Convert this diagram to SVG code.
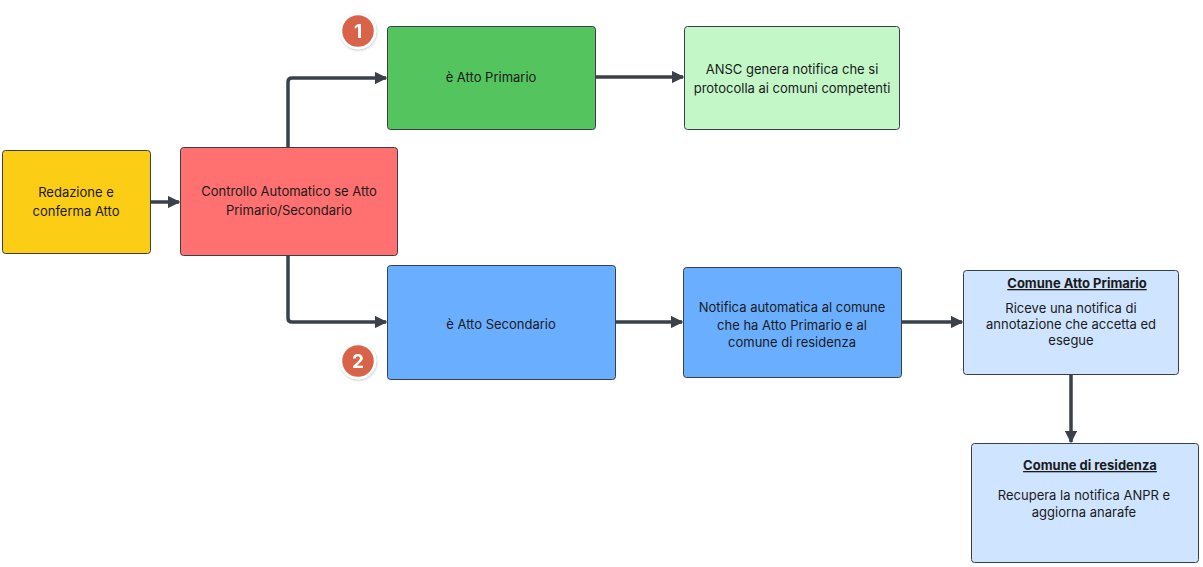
<svg xmlns="http://www.w3.org/2000/svg" width="1203" height="567" viewBox="0 0 1203 567">
<style>
.box{stroke:#3a3f47;stroke-width:1}
.t{font-family:Inter,"Liberation Sans",sans-serif;font-size:13px;fill:#1a1a1a;text-anchor:middle}
.b{font-weight:bold;text-decoration:underline}
.c{fill:none;stroke:#3a414a;stroke-width:3.5;stroke-linejoin:round}
.badge{fill:#d9634a;stroke:#ffffff;stroke-width:2.5}
.bt{font-family:Inter,"Liberation Sans",sans-serif;font-size:19px;font-weight:bold;fill:#ffffff;text-anchor:middle}
</style>
<defs>
<marker id="ah" viewBox="0 0 10 10" refX="9" refY="5" markerWidth="3.6" markerHeight="3.6" orient="auto" markerUnits="strokeWidth">
<path d="M0,0 L10,5 L0,10 z" fill="#3a414a"/>
</marker>
<filter id="sh" x="-30%" y="-30%" width="160%" height="160%">
<feDropShadow dx="0.5" dy="1" stdDeviation="1" flood-color="#000" flood-opacity="0.25"/>
</filter>
</defs>
<rect width="1203" height="567" fill="#ffffff"/>
<g id="connectors">
<path class="c" d="M150,202 L179,202" marker-end="url(#ah)"/>
<path class="c" d="M288,147 L288,82 Q288,78 292,78 L386,78" marker-end="url(#ah)"/>
<path class="c" d="M288,256 L288,318 Q288,322 292,322 L386,322" marker-end="url(#ah)"/>
<path class="c" d="M595,77 L683,77" marker-end="url(#ah)"/>
<path class="c" d="M615,322 L682,322" marker-end="url(#ah)"/>
<path class="c" d="M902,322 L962,322" marker-end="url(#ah)"/>
<path class="c" d="M1071,374 L1071,442" marker-end="url(#ah)"/>
</g>
<g id="redazione">
<rect class="box" x="2.5" y="150.5" width="148" height="103" rx="3" fill="#fbcd14"/>
<text class="t" x="76" y="197">Redazione e</text>
<text class="t" x="76" y="216">conferma Atto</text>
</g>
<g id="controllo">
<rect class="box" x="180.5" y="147.5" width="217" height="108" rx="3" fill="#ff7070"/>
<text class="t" x="289" y="196">Controllo Automatico se Atto</text>
<text class="t" x="289" y="215">Primario/Secondario</text>
</g>
<g id="primario">
<rect class="box" x="387.5" y="26.5" width="208" height="103" rx="3" fill="#54c45e"/>
<text class="t" x="491" y="82">è Atto Primario</text>
</g>
<g id="ansc">
<rect class="box" x="684.5" y="26.5" width="215" height="103" rx="3" fill="#c3f7c8"/>
<text class="t" x="792" y="74">ANSC genera notifica che si</text>
<text class="t" x="792" y="93">protocolla ai comuni competenti</text>
</g>
<g id="secondario">
<rect class="box" x="387.5" y="265.5" width="228" height="114" rx="3" fill="#6aafff"/>
<text class="t" x="501" y="329">è Atto Secondario</text>
</g>
<g id="notifica">
<rect class="box" x="683.5" y="267.5" width="218" height="110" rx="3" fill="#6aafff"/>
<text class="t" x="792" y="312">Notifica automatica al comune</text>
<text class="t" x="792" y="330">che ha Atto Primario e al</text>
<text class="t" x="792" y="347">comune di residenza</text>
</g>
<g id="comune-primario">
<rect class="box" x="963.5" y="270.5" width="215" height="104" rx="3" fill="#cfe4ff"/>
<text class="t b" x="1077" y="288">Comune Atto Primario</text>
<text class="t" x="1071" y="313">Riceve una notifica di</text>
<text class="t" x="1071" y="329">annotazione che accetta ed</text>
<text class="t" x="1071" y="345">esegue</text>
</g>
<g id="comune-residenza">
<rect class="box" x="971.5" y="443.5" width="227" height="119" rx="3" fill="#cfe4ff"/>
<text class="t b" x="1090" y="470">Comune di residenza</text>
<text class="t" x="1084" y="500">Recupera la notifica ANPR e</text>
<text class="t" x="1084" y="517">aggiorna anarafe</text>
</g>
<g id="badge1" filter="url(#sh)">
<circle class="badge" cx="358" cy="31" r="17"/>
<text class="bt" x="358" y="38">1</text>
</g>
<g id="badge2" filter="url(#sh)">
<circle class="badge" cx="358" cy="361" r="17"/>
<text class="bt" x="358" y="368">2</text>
</g>
</svg>
